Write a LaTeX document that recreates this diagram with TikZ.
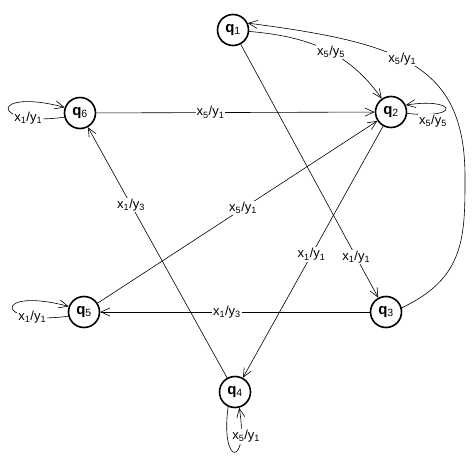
\documentclass[tikz,border=0pt]{standalone}
\usepackage{fontspec}
\setmainfont{Liberation Sans}
\usetikzlibrary{arrows.meta}
\newcommand{\qs}[1]{\textbf{q}\textsubscript{#1}}
\newcommand{\xy}[2]{x\textsubscript{#1}/y\textsubscript{#2}}

\begin{document}
\begin{tikzpicture}[x=1pt, y=1pt,
    st/.style={circle, draw, line width=1.6pt, minimum size=31pt, inner sep=0pt, font=\fontsize{15}{17}\selectfont},
    lab/.style={fill=white, inner sep=1pt, font=\fontsize{13}{15}\selectfont},
    arrow/.style={-{Straight Barb[length=9pt,width=8pt]}, line width=0.6pt}
  ]
    \useasboundingbox (0,0) rectangle (473,469);

    % states
    \node[st] (q1) at (233,439) {\qs{1}};
    \node[st] (q2) at (391,357) {\qs{2}};
    \node[st] (q3) at (386,157) {\qs{3}};
    \node[st] (q4) at (235,77) {\qs{4}};
    \node[st] (q5) at (84,157) {\qs{5}};
    \node[st] (q6) at (80,356) {\qs{6}};

    % transitions
    \draw[arrow] (q1) to[out=-5, in=125] node[lab, pos=0.55] {\xy55} (q2);
    \draw[arrow] (q3.15) .. controls (465,191) and (465,232) .. (465,292)
      .. controls (465,405) and (400,426) .. node[lab, pos=0.55] {\xy51} (q1.25);
    \draw[arrow] (q1) -- node[lab, pos=0.84] {\xy11} (q3);
    \draw[arrow] (q2) -- node[lab, pos=0.51] {\xy11} (q4);
    \draw[arrow] (q6) -- node[lab, pos=0.41] {\xy51} (q2);
    \draw[arrow] (q5) -- node[lab, pos=0.52] {\xy51} (q2);
    \draw[arrow] (q3) -- node[lab, pos=0.53] {\xy13} (q5);
    \draw[arrow] (q4) -- node[lab, pos=0.69] {\xy13} (q6);

    % loops
    \draw[arrow] (q6.195) .. controls +(-75,-10) and +(-75,20) .. node[lab, pos=0.2] {\xy11} (q6.160);
    \draw[arrow] (q5.195) .. controls +(-75,-10) and +(-75,20) .. node[lab, pos=0.2] {\xy11} (q5.160);
    \draw[arrow] (q2.-5) .. controls +(55,-6) and +(50,8) .. node[lab, pos=0.2, below] {\xy55} (q2.25);
    \draw[arrow] (q4.245) .. controls +(-8,-60) and +(10,-60) .. node[lab, pos=0.8, xshift=5pt] {\xy51} (q4.285);
\end{tikzpicture}
\end{document}
